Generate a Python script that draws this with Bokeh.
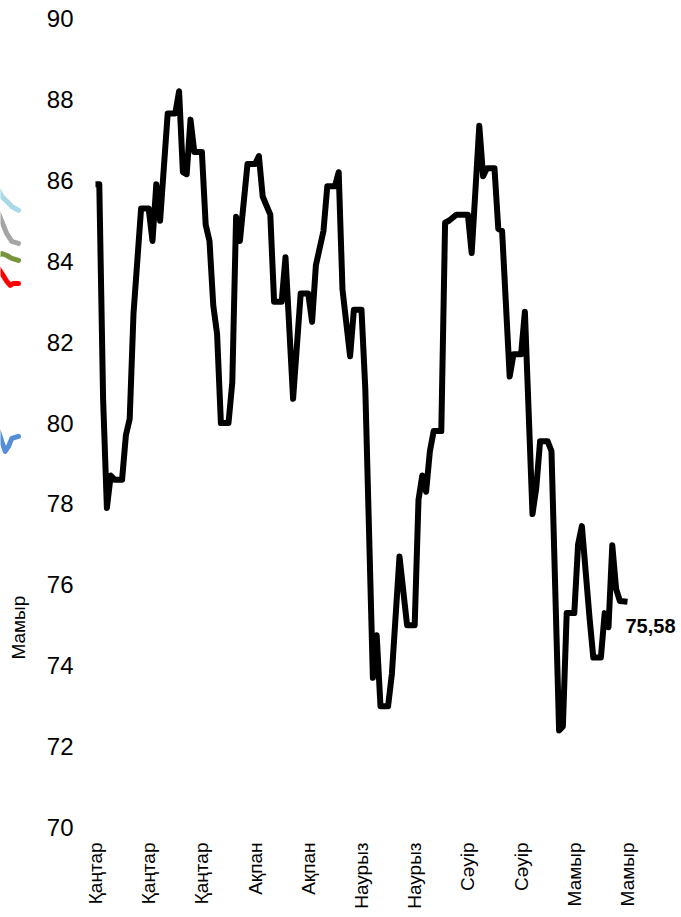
import math
from bokeh.plotting import figure
from bokeh.layouts import row
from bokeh.models import FixedTicker, ColumnDataSource
from bokeh.core.properties import value
from bokeh.embed import file_html
from bokeh.resources import INLINE

FONT = "Liberation Sans"

# ---- data (day index from 1 January, value) ----
days = [0, 1, 2, 3, 4, 5, 7, 8, 9, 10, 12, 14, 15, 16, 17, 19, 21, 22, 23, 24,
        25, 26, 28, 29, 30, 31, 32, 33, 35, 36, 37, 38, 40, 42, 43, 44, 46, 47,
        49, 50, 52, 54, 56, 57, 58, 60, 61, 63, 64, 65, 67, 68, 70, 71, 73, 74,
        75, 77, 78, 80, 82, 84, 85, 86, 87, 88, 89, 91, 92, 93, 95, 98, 99, 101,
        102, 103, 105, 106, 107, 109, 110, 112, 113, 115, 116, 117, 119, 120,
        122, 123, 124, 126, 127, 128, 130, 131, 133, 134, 135, 136, 137, 138, 140]
values = [85.9, 85.9, 80.6, 77.9, 78.7, 78.6, 78.6, 79.7, 80.1, 82.7, 85.3, 85.3,
          84.5, 85.9, 85.0, 87.65, 87.65, 88.2, 86.2, 86.15, 87.5, 86.7, 86.7,
          84.9, 84.5, 82.9, 82.2, 80.0, 80.0, 81.0, 85.1, 84.5, 86.4, 86.4, 86.6,
          85.6, 85.15, 83.0, 83.0, 84.1, 80.6, 83.2, 83.2, 82.5, 83.9, 84.75,
          85.85, 85.85, 86.2, 83.3, 81.65, 82.8, 82.8, 80.85, 73.7, 74.75, 73.0,
          73.0, 73.8, 76.7, 75.0, 75.0, 78.1, 78.7, 78.3, 79.3, 79.8, 79.8, 84.95,
          85.0, 85.15, 85.15, 84.2, 87.35, 86.1, 86.3, 86.3, 84.8, 84.75, 81.15,
          81.7, 81.7, 82.75, 77.75, 78.4, 79.55, 79.55, 79.3, 72.4, 72.5, 75.3,
          75.3, 77.0, 77.45, 75.2, 74.2, 74.2, 75.3, 74.95, 76.98, 75.9, 75.6,
          75.58]

tick_days = [0, 14, 28, 42, 56, 70, 84, 98, 112, 126, 140]
tick_labels = ["Қаңтар", "Қаңтар", "Қаңтар", "Ақпан", "Ақпан", "Наурыз",
               "Наурыз", "Сәуір", "Сәуір", "Мамыр", "Мамыр"]
y_ticks = [70, 72, 74, 76, 78, 80, 82, 84, 86, 88, 90]

# cut-off series ends of the neighbouring panel (x in px of the strip, value)
stub_x = [0, 3.3, 8.3, 13.3, 20]
stub_lightblue = [85.76, 85.60, 85.48, 85.35, 85.26]
stub_gray = [85.18, 84.98, 84.68, 84.49, 84.44]
stub_green = [84.14, 84.19, 84.14, 84.07, 84.02]
stub_red_x = [0, 3.3, 8.3, 11.7, 15, 20]
stub_red = [83.82, 83.70, 83.50, 83.40, 83.45, 83.45]
stub_blue_x = [0, 3.3, 6.7, 10, 13.3, 20]
stub_blue = [79.79, 79.54, 79.30, 79.42, 79.62, 79.67]
side_label = "Мамыр"

TOP, BOTTOM = 18, 85
H = TOP + 809 + BOTTOM
LEFT_W, MAIN_W = 36, 642
BORDER_L = 55
FRAME_W = MAIN_W - BORDER_L
PX_PER_DAY = 3.8
X0 = -1.05

# ---- left strip ----
left = figure(width=LEFT_W, height=H, x_range=(0, LEFT_W), y_range=(70, 90),
              output_backend="svg", toolbar_location=None,
              x_axis_location=None, y_axis_location=None,
              min_border_left=0, min_border_right=0,
              min_border_top=TOP, min_border_bottom=BOTTOM)
left.outline_line_color = None
left.grid.visible = False
shift = 2
for xs, ys, col in [(stub_x, stub_lightblue, "#A9D8E6"),
                    (stub_x, stub_gray, "#A5A5A5"),
                    (stub_x, stub_green, "#77933C"),
                    (stub_red_x, stub_red, "#FF0000"),
                    (stub_blue_x, stub_blue, "#558ED5")]:
    left.line([x - shift for x in xs], ys, line_width=5, color=col,
              line_join="round", line_cap="round")
left.text(x=[18], y=[74.94], text=[side_label], angle=math.pi / 2,
          text_font=value(FONT), text_font_size="19px", text_color="#000000",
          text_align="center", text_baseline="middle")

# ---- main chart ----
p = figure(width=MAIN_W, height=H,
           x_range=(X0, X0 + FRAME_W / PX_PER_DAY), y_range=(70, 90),
           output_backend="svg", toolbar_location=None,
           min_border_left=BORDER_L, min_border_right=0,
           min_border_top=TOP, min_border_bottom=BOTTOM)
p.outline_line_color = None
p.grid.visible = False

src = ColumnDataSource(dict(day=days, val=values))
p.line(x="day", y="val", source=src, line_width=6, color="#000000",
       line_join="round")

last_text = f"{values[-1]:.2f}".replace(".", ",")
p.text(x=[days[-1]], y=[values[-1]], text=[last_text],
       text_font=value(FONT), text_font_style="bold", text_font_size="20px",
       text_color="#000000", text_align="left", text_baseline="middle",
       x_offset=-2, y_offset=24)

for ax in (p.xaxis, p.yaxis):
    ax.axis_line_color = None
    ax.major_tick_line_color = None
    ax.minor_tick_line_color = None
    ax.major_tick_out = 0
    ax.major_tick_in = 0
    ax.minor_tick_out = 0
    ax.minor_tick_in = 0
    ax.major_label_text_font = FONT
    ax.major_label_text_color = "#000000"

p.yaxis.ticker = FixedTicker(ticks=y_ticks)
p.yaxis.major_label_standoff = 18
p.yaxis.major_label_text_font_size = "24px"

p.xaxis.ticker = FixedTicker(ticks=tick_days)
p.xaxis.major_label_overrides = {d: t for d, t in zip(tick_days, tick_labels)}
p.xaxis.major_label_orientation = math.pi / 2
p.xaxis.major_label_standoff = 15
p.xaxis.major_label_text_font_size = "19px"

layout = row(left, p)
open("out.html", "w").write(file_html(layout, INLINE))
